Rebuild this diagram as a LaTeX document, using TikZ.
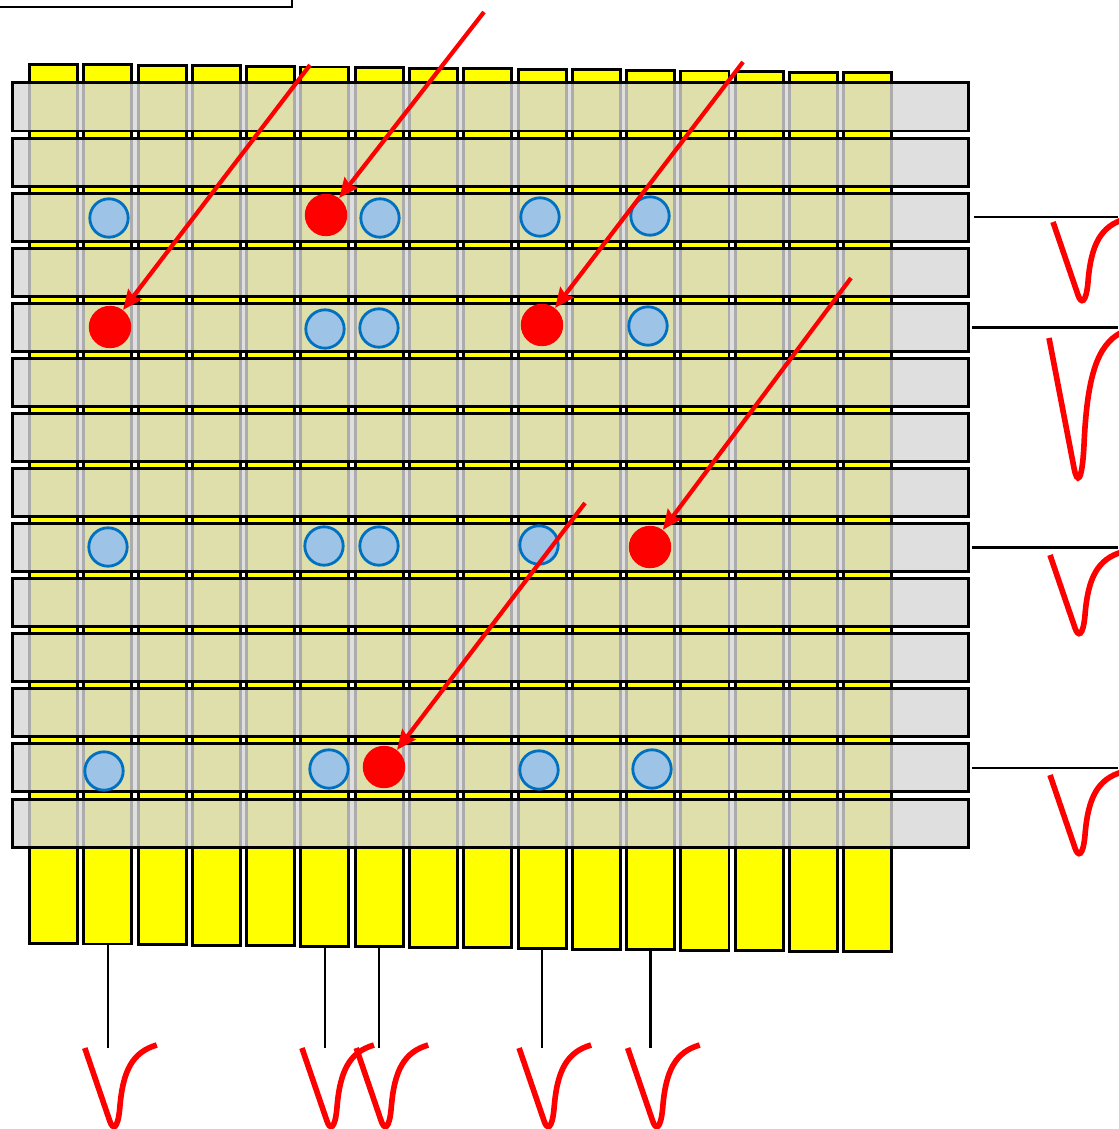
\documentclass[tikz,border=0pt]{standalone}
\usepackage{xcolor}
\usepackage{tikz}
\usetikzlibrary{arrows.meta, positioning, calc}
\definecolor{stripyellow}{RGB}{255,255,0}
\definecolor{stripgrey}{RGB}{215,215,215}
\definecolor{padblue}{RGB}{157,195,230}
\definecolor{padedge}{RGB}{0,112,192}
\tikzset{
  colstrip/.style={rectangle, draw=black, line width=2.1pt, fill=stripyellow,
                   inner sep=0pt, minimum width=1.2cm, minimum height=21.975cm,
                   anchor=north west},
  rowstrip/.style={rectangle, draw=black, line width=2.1pt, fill=stripgrey,
                   fill opacity=0.8, inner sep=0pt, minimum width=23.9cm,
                   minimum height=1.2cm, anchor=north west},
  cell/.style={circle, draw=padedge, line width=2pt, fill=padblue,
               inner sep=0pt, minimum size=0.96cm},
  hit/.style={circle, fill=red, inner sep=0pt, minimum size=1.06cm},
  track/.style={-{Stealth[length=14pt, width=12pt, inset=2pt]}, red, line width=3pt},
  wire/.style={black, line width=1.8pt},
  pulse/.pic={\draw[red, line width=4pt] (0,0) -- (25,73)
              .. controls (28,82) and (33,82) .. (35,60)
              .. controls (38,22) and (48,4) .. (72,-3);},
}

\begin{document}
\begin{tikzpicture}[x=0.025cm, y=-0.025cm]
\useasboundingbox (0,0) rectangle (1118,1129);

% ── frame, top left ──────────────────────────────────────────────────────────
\node[draw=black, line width=1.7pt, inner sep=0pt, minimum width=8cm,
      minimum height=1cm, anchor=south east] (frame) at (293,8) {};

% ── yellow columns ───────────────────────────────────────────────────────────
\foreach \i in {0,...,15}
  \node[colstrip] (col\i) at ({28+54.29*\i},{62.7+0.57*\i}) {};

% ── grey rows ────────────────────────────────────────────────────────────────
\foreach \j in {0,...,13}
  \node[rowstrip] (row\j) at (10.7,{81.5+55.08*\j}) {};

% ── blue pads ────────────────────────────────────────────────────────────────
\node[cell] (a1) at (109,218) {};
\node[cell] (a2) at (380,218) {};
\node[cell] (a3) at (540,217) {};
\node[cell] (a4) at (650,216) {};
\node[cell] (b1) at (325,329) {};
\node[cell] (b2) at (379,328) {};
\node[cell] (b3) at (648,326) {};
\node[cell] (c1) at (108,547) {};
\node[cell] (c2) at (324,546) {};
\node[cell] (c3) at (379,546) {};
\node[cell] (c4) at (539,545) {};
\node[cell] (d1) at (104,771) {};
\node[cell] (d2) at (329,769) {};
\node[cell] (d3) at (539,770) {};
\node[cell] (d4) at (652,769) {};

% ── red hits ─────────────────────────────────────────────────────────────────
\node[hit] (h1) at (326,215) {};
\node[hit] (h2) at (110,327) {};
\node[hit] (h3) at (542,325) {};
\node[hit] (h4) at (650,547) {};
\node[hit] (h5) at (384,767) {};

% tracks
\coordinate (s1) at (484,12);
\coordinate (s2) at (310,65);
\coordinate (s3) at (743,62);
\coordinate (s4) at (851,278);
\coordinate (s5) at (585,503);
\draw[track] (s1) -- (h1);
\draw[track] (s2) -- (h2);
\draw[track] (s3) -- (h3);
\draw[track] (s4) -- (h4);
\draw[track] (s5) -- (h5);

% ── readout, right ───────────────────────────────────────────────────────────
\coordinate (redge) at (1118,0);
\draw[wire] ([xshift=0.1cm]row2.east) -- (row2.east -| redge);
\draw[wire] ([xshift=0.05cm]row4.east) -- (row4.east -| redge);
\draw[wire] ([xshift=0.05cm]row8.east) -- (row8.east -| redge);
\draw[wire] ([xshift=0.05cm]row12.east) -- (row12.east -| redge);
\pic at (1053,222) {pulse};
\pic[yscale=1.78] at (1049,338) {pulse};
\pic at (1050,555) {pulse};
\pic at (1050,775) {pulse};

% ── readout, bottom ──────────────────────────────────────────────────────────
\coordinate (bline) at (0,1048);
\foreach \k in {1,5,6,9,11} {
  \draw[wire] (col\k.south) -- (col\k.south |- bline) coordinate (w\k);
  \pic at ($(w\k)+(-23,0)$) {pulse};
}

\end{tikzpicture}
\end{document}
